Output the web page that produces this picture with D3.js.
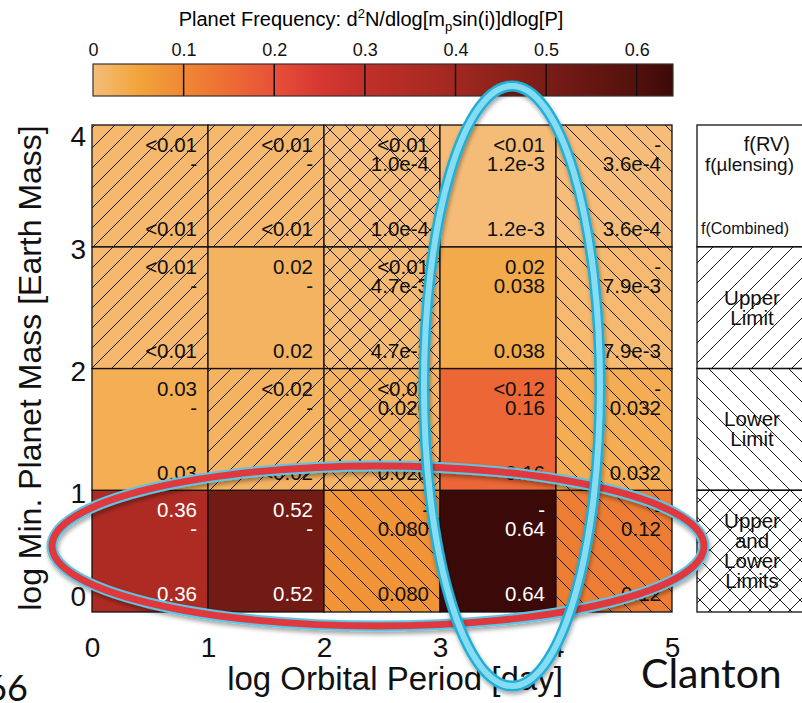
<!DOCTYPE html>
<html lang="en">
<head>
<meta charset="UTF-8">
<title>Planet Frequency</title>
<style>
  html, body { margin: 0; padding: 0; background: #fff; overflow: hidden; }
  svg { display: block; font-family: 'Liberation Sans', Arial, sans-serif; }
</style>
</head>
<body>
<div id="chart"></div>
<script src="https://d3js.org/d3.v7.min.js"></script>
<script>
const periodTicks = [0, 1, 2, 3, 4, 5];
const massTicks = [0, 1, 2, 3, 4];
const colourTicks = [0, 0.1, 0.2, 0.3, 0.4, 0.5, 0.6];

// rows: mass bin 0-1 (bottom) .. 3-4 (top); columns: period bin 0-1 .. 4-5
const rvText = [
    ["0.36", "0.52", "-", "-", "-"],
    ["0.03", "<0.02", "<0.02", "<0.12", "-"],
    ["<0.01", "0.02", "<0.01", "0.02", "-"],
    ["<0.01", "<0.01", "<0.01", "<0.01", "-"]
];
const lensText = [
    ["-", "-", "0.080", "0.64", "0.12"],
    ["-", "-", "0.020", "0.16", "0.032"],
    ["-", "-", "4.7e-3", "0.038", "7.9e-3"],
    ["-", "-", "1.0e-4", "1.2e-3", "3.6e-4"]
];
const combinedText = [
    ["0.36", "0.52", "0.080", "0.64", "0.12"],
    ["0.03", "<0.02", "0.020", "0.16", "0.032"],
    ["<0.01", "0.02", "4.7e-3", "0.038", "7.9e-3"],
    ["<0.01", "<0.01", "1.0e-4", "1.2e-3", "3.6e-4"]
];
const combinedValue = [
    [0.36, 0.52, 0.080, 0.64, 0.12],
    [0.03, 0.02, 0.020, 0.16, 0.032],
    [0.01, 0.02, 0.0047, 0.038, 0.0079],
    [0.01, 0.01, 0.0001, 0.0012, 0.00036]
];
const limitType = [
    ["none", "none", "lower", "none", "lower"],
    ["none", "upper", "both", "none", "lower"],
    ["upper", "none", "both", "none", "lower"],
    ["upper", "upper", "both", "none", "lower"]
];
const legendRows = [
    {type: "none", lines: []},
    {type: "upper", lines: ["Upper", "Limit"]},
    {type: "lower", lines: ["Lower", "Limit"]},
    {type: "both", lines: ["Upper", "and", "Lower", "Limits"]}
];

const colourStops = [0, 0.05, 0.1, 0.15, 0.2, 0.25, 0.3, 0.4, 0.5, 0.6, 0.64];
const colourRange = ["#F5BD79", "#F3A43C", "#EF8834", "#ED6C35", "#E8503A", "#D73830",
                     "#C1302A", "#A0281F", "#7A1C16", "#52110D", "#3B0A08"];

const width = 802, height = 703;

const svg = d3.select("#chart")
    .append("svg")
    .attr("width", width)
    .attr("height", height);

const x = d3.scaleLinear().domain([0, 5]).range([92, 672]);
const y = d3.scaleLinear().domain([0, 4]).range([612, 125]);
const cbar = d3.scaleLinear().domain([0, 0.64]).range([93, 673]);
const colour = d3.scaleLinear().domain(colourStops).range(colourRange);

// PATTERNS
const defs = svg.append("defs");
const hatchPaths = {
    upper: "M0,20 L20,0 M-5,5 L5,-5 M15,25 L25,15",
    lower: "M0,0 L20,20 M-5,15 L5,25 M15,-5 L25,5",
    both: "M0,20 L20,0 M-5,5 L5,-5 M15,25 L25,15 M0,0 L20,20 M-5,15 L5,25 M15,-5 L25,5"
};
Object.entries(hatchPaths).forEach(([k, d]) => {
    defs.append("pattern")
        .attr("id", "hatch-" + k)
        .attr("patternUnits", "userSpaceOnUse")
        .attr("width", 20)
        .attr("height", 20)
        .append("path")
        .attr("d", d)
        .attr("stroke", "#1a1a1a")
        .attr("stroke-width", 1)
        .attr("fill", "none");
});

const grad = defs.append("linearGradient").attr("id", "cbar-grad");
grad.selectAll("stop")
    .data(colourStops).enter()
    .append("stop")
    .attr("offset", d => (d / 0.64 * 100) + "%")
    .attr("stop-color", d => colour(d));

const shadow = defs.append("filter").attr("id", "shadow")
    .attr("x", "-10%").attr("y", "-10%").attr("width", "120%").attr("height", "120%");
shadow.append("feDropShadow")
    .attr("dx", 1).attr("dy", 3).attr("stdDeviation", 2)
    .attr("flood-color", "#000").attr("flood-opacity", 0.35);

// COLOUR BAR
svg.append("text")
    .attr("x", 371)
    .attr("y", 26)
    .attr("text-anchor", "middle")
    .attr("font-size", 20)
    .call(t => {
        t.append("tspan").text("Planet Frequency: d");
        t.append("tspan").attr("font-size", 13).attr("dy", -8).text("2");
        t.append("tspan").attr("dy", 8).text("N/dlog[m");
        t.append("tspan").attr("font-size", 13).attr("dy", 5).text("p");
        t.append("tspan").attr("dy", -5).text("sin(i)]dlog[P]");
    });

svg.append("rect")
    .attr("x", cbar(0))
    .attr("y", 64)
    .attr("width", cbar(0.64) - cbar(0))
    .attr("height", 32)
    .attr("fill", "url(#cbar-grad)")
    .attr("stroke", "#333")
    .attr("stroke-width", 1.2);

svg.selectAll(".cbar-div")
    .data(colourTicks.slice(1)).enter()
    .append("line")
    .attr("x1", d => cbar(d)).attr("x2", d => cbar(d))
    .attr("y1", 64).attr("y2", 96)
    .attr("stroke", "#111")
    .attr("stroke-width", 1.5);

const cbarAxis = svg.append("g")
    .attr("transform", "translate(0,64)")
    .call(d3.axisTop(cbar).tickValues(colourTicks).tickSize(0).tickPadding(8).tickFormat(d3.format("")));
cbarAxis.select(".domain").remove();
cbarAxis.selectAll("text").attr("font-size", 18).attr("font-family", "'Liberation Sans', Arial, sans-serif").attr("fill", "#111");

// CELLS
const cells = [];
combinedValue.forEach((row, r) => row.forEach((v, c) => cells.push({
    r, c, v,
    rv: rvText[r][c], lens: lensText[r][c], comb: combinedText[r][c], lim: limitType[r][c]
})));

const cell = svg.selectAll(".cell")
    .data(cells).enter()
    .append("g")
    .attr("class", "cell");

cell.append("rect")
    .attr("x", d => x(d.c)).attr("y", d => y(d.r + 1))
    .attr("width", d => x(d.c + 1) - x(d.c))
    .attr("height", d => y(d.r) - y(d.r + 1))
    .attr("fill", d => colour(d.v));

cell.filter(d => d.lim !== "none")
    .append("rect")
    .attr("x", d => x(d.c)).attr("y", d => y(d.r + 1))
    .attr("width", d => x(d.c + 1) - x(d.c))
    .attr("height", d => y(d.r) - y(d.r + 1))
    .attr("fill", d => "url(#hatch-" + d.lim + ")");

const textColour = d => d.v > 0.3 ? "#fff" : "#111";
const cellText = (key, dy) => cell.append("text")
    .attr("x", d => x(d.c + 1) - 11)
    .attr("y", d => y(d.r + 1) + dy)
    .attr("text-anchor", "end")
    .attr("font-size", 20.5)
    .attr("fill", textColour)
    .text(d => d[key]);
cellText("rv", 27);
cellText("lens", 46);
cellText("comb", 111);

cell.append("rect")
    .attr("x", d => x(d.c)).attr("y", d => y(d.r + 1))
    .attr("width", d => x(d.c + 1) - x(d.c))
    .attr("height", d => y(d.r) - y(d.r + 1))
    .attr("fill", "none")
    .attr("stroke", "#111")
    .attr("stroke-width", 1.3);

// AXES
const xAxis = svg.append("g")
    .attr("transform", "translate(0,612)")
    .call(d3.axisBottom(x).tickValues(periodTicks).tickSize(0).tickPadding(25).tickFormat(d3.format("d")));
xAxis.select(".domain").remove();
xAxis.selectAll("text").attr("font-size", 28).attr("font-family", "'Liberation Sans', Arial, sans-serif").attr("fill", "#111");

const yAxis = svg.append("g")
    .attr("transform", "translate(92,0)")
    .call(d3.axisLeft(y).tickValues(massTicks).tickSize(0).tickPadding(6).tickFormat(d3.format("d")));
yAxis.select(".domain").remove();
yAxis.selectAll("text")
    .attr("font-size", 28)
    .attr("font-family", "'Liberation Sans', Arial, sans-serif")
    .attr("fill", "#111")
    .attr("y", d => d === 4 ? 12 : d === 0 ? -15 : 3);

svg.append("text")
    .attr("x", 395)
    .attr("y", 690)
    .attr("text-anchor", "middle")
    .attr("font-size", 33)
    .attr("fill", "#111")
    .text("log Orbital Period [day]");

svg.append("text")
    .attr("transform", "translate(41,368) rotate(-90)")
    .attr("text-anchor", "middle")
    .attr("font-size", 32)
    .attr("fill", "#111")
    .text("log Min. Planet Mass [Earth Mass]");

// LEGEND BOXES
const legend = svg.selectAll(".legend")
    .data(legendRows).enter()
    .append("g")
    .attr("class", "legend");

legend.append("rect")
    .attr("x", 697)
    .attr("y", (d, i) => y(4 - i))
    .attr("width", 115)
    .attr("height", (d, i) => y(3 - i) - y(4 - i))
    .attr("fill", d => d.type === "none" ? "#fff" : "url(#hatch-" + d.type + ")")
    .attr("stroke", "#111")
    .attr("stroke-width", 1.3);

legend.each(function (d, i) {
    const g = d3.select(this);
    const mid = (y(4 - i) + y(3 - i)) / 2;
    const n = d.lines.length;
    d.lines.forEach((line, j) => {
        g.append("text")
            .attr("x", 752)
            .attr("y", mid + 7 + (j - (n - 1) / 2) * 20)
            .attr("text-anchor", "middle")
            .attr("font-size", 20.5)
            .attr("fill", "#111")
            .text(line);
    });
});

svg.append("text").attr("x", 790).attr("y", 151).attr("text-anchor", "end")
    .attr("font-size", 20).attr("fill", "#111").text("f(RV)");
svg.append("text").attr("x", 794).attr("y", 171).attr("text-anchor", "end")
    .attr("font-size", 19).attr("fill", "#111").text("f(\u00b5lensing)");
svg.append("text").attr("x", 701).attr("y", 234)
    .attr("font-size", 16).attr("fill", "#111").text("f(Combined)");

// SLIDE ANNOTATIONS
const marks = svg.append("g").attr("fill", "none");
const red = marks.append("g").attr("filter", "url(#shadow)");
red.append("ellipse").attr("cx", 378).attr("cy", 546).attr("rx", 326).attr("ry", 80)
    .attr("stroke", "#5CC6E6").attr("stroke-width", 11);
red.append("ellipse").attr("cx", 378).attr("cy", 546).attr("rx", 326).attr("ry", 80)
    .attr("stroke", "#E0373D").attr("stroke-width", 7);

const blue = marks.append("g").attr("filter", "url(#shadow)");
blue.append("ellipse").attr("cx", 512).attr("cy", 386).attr("rx", 88).attr("ry", 300)
    .attr("stroke", "#22AED6").attr("stroke-width", 11);
blue.append("ellipse").attr("cx", 512).attr("cy", 386).attr("rx", 88).attr("ry", 300)
    .attr("stroke", "#86DDF3").attr("stroke-width", 6);

svg.append("text").attr("x", -14).attr("y", 701)
    .attr("font-family", "Lato, sans-serif").attr("font-size", 36).attr("fill", "#111").text("66");
svg.append("text").attr("x", 641).attr("y", 688)
    .attr("font-family", "Lato, sans-serif").attr("font-size", 41).attr("fill", "#111").text("Clanton");
</script>
</body>
</html>
